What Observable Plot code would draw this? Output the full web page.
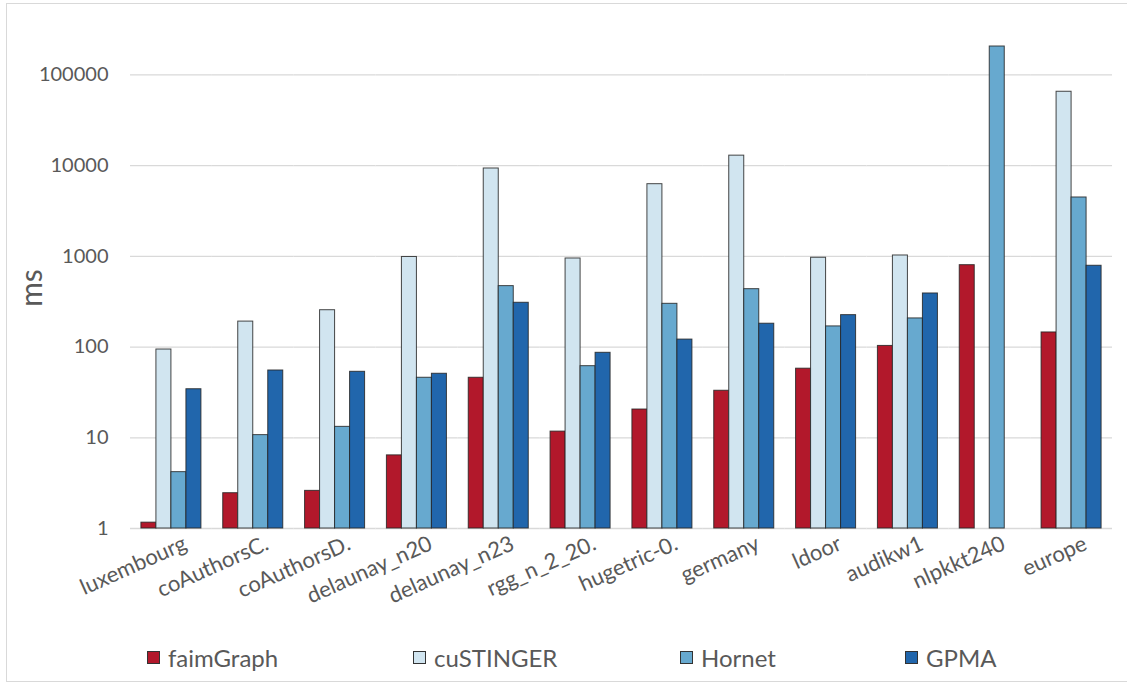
<!DOCTYPE html>
<html>
<head>
<meta charset="utf-8">
<script src="https://cdn.jsdelivr.net/npm/d3@7"></script>
<script src="https://cdn.jsdelivr.net/npm/@observablehq/plot@0.6"></script>
<style>
  body { margin: 0; background: #fff; font-family: Lato, "Open Sans", sans-serif; }
  #wrap { position: relative; width: 1127px; height: 682px; overflow: hidden; }
  #frame { position: absolute; left: 6px; top: 3px; width: 1200px; height: 677px; border-left: 1px solid #d9d9d9; border-top: 1px solid #d9d9d9; border-bottom: 1px solid #d9d9d9; }
  #chart { position: absolute; left: 0; top: 0; }
  #legend { position: absolute; top: 643px; left: 0; width: 1127px; height: 30px; font-size: 24px; color: #595959; }
  .item { position: absolute; display: flex; align-items: center; }
  .sw { width: 13px; height: 13px; border: 1px solid #333; margin-right: 8px; box-sizing: border-box; }
</style>
</head>
<body>
<div id="wrap">
  <div id="frame"></div>
  <div id="chart"></div>
  <div id="legend"></div>
</div>
<script>
const categories = ["luxembourg", "coAuthorsC.", "coAuthorsD.", "delaunay_n20", "delaunay_n23", "rgg_n_2_20.", "hugetric-0.", "germany", "ldoor", "audikw1", "nlpkkt240", "europe"];
const seriesNames = ["faimGraph", "cuSTINGER", "Hornet", "GPMA"];
const seriesColors = ["#b2182b", "#d1e5f0", "#67a9cf", "#2166ac"];
const faimGraph = [1.16, 2.45, 2.6, 6.4, 45.9, 11.7, 20.5, 33, 57.8, 103, 800, 145];
const cuSTINGER = [94, 191, 255, 985, 9310, 948, 6250, 12900, 966, 1023, null, 65300];
const Hornet = [4.18, 10.7, 13.2, 45.9, 470, 61.6, 300, 435, 169, 207, 206000, 4460];
const GPMA = [34.3, 55.2, 53.4, 50.8, 308, 86.5, 121, 181, 225, 390, null, 788];
const yTicks = [1, 10, 100, 1000, 10000, 100000];
const yMax = 206000;

const seriesValues = [faimGraph, cuSTINGER, Hornet, GPMA];
const rows = [];
categories.forEach((c, i) => {
  seriesNames.forEach((s, j) => {
    const v = seriesValues[j][i];
    if (v != null) rows.push({category: c, series: s, value: v});
  });
});

const chart = Plot.plot({
  width: 1127,
  height: 630,
  marginTop: 46,
  marginBottom: 102,
  marginLeft: 130,
  marginRight: 15,
  style: {fontFamily: "Lato, 'Open Sans', sans-serif", background: "transparent", overflow: "visible"},
  fx: {domain: categories, padding: 0, round: false, label: null},
  x: {domain: seriesNames, paddingInner: 0, paddingOuter: 0.727, round: false, axis: null},
  y: {type: "log", domain: [1, yMax], label: null, clamp: true},
  color: {domain: seriesNames, range: seriesColors},
  marks: [
    Plot.ruleY(yTicks, {y: d => d, stroke: "#d9d9d9", strokeWidth: 1.3}),
    Plot.barY(rows, {fx: "category", x: "series", y1: 1, y2: "value", fill: "series", stroke: "#262626", strokeWidth: 1, strokeOpacity: 0.85}),
    Plot.axisY({ticks: yTicks, tickFormat: d => String(d), tickSize: 0, tickPadding: 22, fontSize: 20, color: "#595959", label: null}),
    Plot.axisFx({anchor: "bottom", tickRotate: -24, tickSize: 0, tickPadding: 14, fontSize: 22, color: "#595959", label: null, dx: 14})
  ]
});
document.getElementById("chart").appendChild(chart);

// y-axis title
const svg = d3.select(chart);
svg.append("text").attr("transform", "translate(42,288) rotate(-90)").attr("text-anchor", "middle")
  .attr("font-size", 30).attr("fill", "#595959").attr("font-family", "Lato, 'Open Sans', sans-serif").text("ms");

// legend
const legendX = [147, 413, 680, 905];
const legend = document.getElementById("legend");
seriesNames.forEach((s, j) => {
  const it = document.createElement("div");
  it.className = "item";
  it.style.left = legendX[j] + "px";
  it.innerHTML = `<div class="sw" style="background:${seriesColors[j]}"></div><span>${s}</span>`;
  legend.appendChild(it);
});
</script>
</body>
</html>
